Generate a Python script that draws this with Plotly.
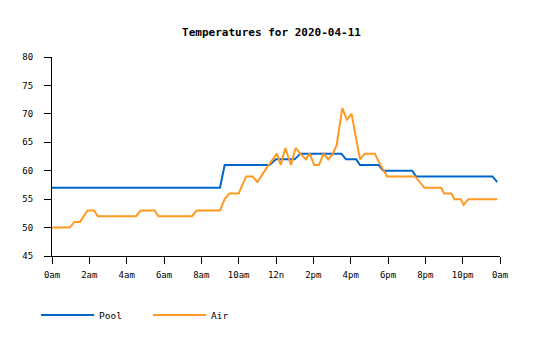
import plotly.graph_objects as go

# Times in hours since midnight, values in degrees
pool_hours = [0, 9.0, 9.25, 11.65, 12.0, 13.0, 13.3, 15.5, 15.75, 16.3, 16.5,
              17.5, 17.75, 19.3, 19.5, 23.6, 23.85]
pool_temps = [57, 57, 61, 61, 62, 62, 63, 63, 62, 62, 61,
              61, 60, 60, 59, 59, 58]

air_hours = [0, 0.95, 1.2, 1.5, 1.9, 2.25, 2.45, 4.5, 4.75, 5.5, 5.7, 7.5, 7.75,
             9.0, 9.25, 9.5, 10.0, 10.4, 10.75, 11.0, 11.5, 11.85, 12.05, 12.25,
             12.5, 12.8, 13.05, 13.3, 13.6, 13.8, 14.05, 14.3, 14.55, 14.8, 15.05,
             15.25, 15.55, 15.8, 16.05, 16.3, 16.5, 16.75, 17.3, 17.55, 17.95,
             19.45, 19.95, 20.85, 21.0, 21.4, 21.55, 21.9, 22.05, 22.3, 23.85]
air_temps = [50, 50, 51, 51, 53, 53, 52, 52, 53, 53, 52, 52, 53,
             53, 55, 56, 56, 59, 59, 58, 60.5, 62, 63, 61,
             64, 61, 64, 63, 62, 63, 61, 61, 63, 62, 63,
             64.5, 71, 69, 70, 65.5, 62, 63, 63, 61.3, 59,
             59, 57, 57, 56, 56, 55, 55, 54, 55, 55]

tick_hours = [0, 2, 4, 6, 8, 10, 12, 14, 16, 18, 20, 22, 24]
tick_labels = ["0am", "2am", "4am", "6am", "8am", "10am", "12n", "2pm", "4pm",
               "6pm", "8pm", "10pm", "0am"]
y_ticks = [45, 50, 55, 60, 65, 70, 75, 80]

MONO = "DejaVu Sans Mono"

fig = go.Figure()
fig.add_trace(go.Scatter(x=pool_hours, y=pool_temps, mode="lines", name="Pool",
                         line=dict(color="#0066cc", width=2)))
fig.add_trace(go.Scatter(x=air_hours, y=air_temps, mode="lines", name="Air",
                         line=dict(color="#ff9922", width=2)))

fig.update_layout(
    width=535, height=340,
    margin=dict(l=52, r=35, t=57, b=83),
    paper_bgcolor="white", plot_bgcolor="white",
    font=dict(family=MONO, size=9, color="black"),
    title=dict(text="<b>Temperatures for 2020-04-11</b>", x=271.5 / 535, xanchor="center",
               y=1 - 32 / 340, yanchor="middle", font=dict(family=MONO, size=11, color="black")),
    xaxis=dict(range=[0, 24], tickvals=tick_hours, ticktext=tick_labels,
               showgrid=False, zeroline=False, showline=True, linecolor="black", linewidth=1,
               ticks="outside", ticklen=7, tickcolor="black", ticklabelstandoff=3,
               tickfont=dict(family=MONO, size=9)),
    yaxis=dict(range=[45, 80], tickvals=y_ticks,
               showgrid=False, zeroline=False, showline=True, linecolor="black", linewidth=1,
               ticks="outside", ticklen=7, tickcolor="black", ticklabelstandoff=9,
               tickfont=dict(family=MONO, size=9)),
    legend=dict(orientation="h", x=-16 / 448, xanchor="left", y=-58 / 200, yanchor="middle",
                font=dict(family=MONO, size=9.5), itemwidth=53,
                entrywidth=44, entrywidthmode="pixels", bgcolor="rgba(0,0,0,0)"),
)

fig.write_html("out.html")
